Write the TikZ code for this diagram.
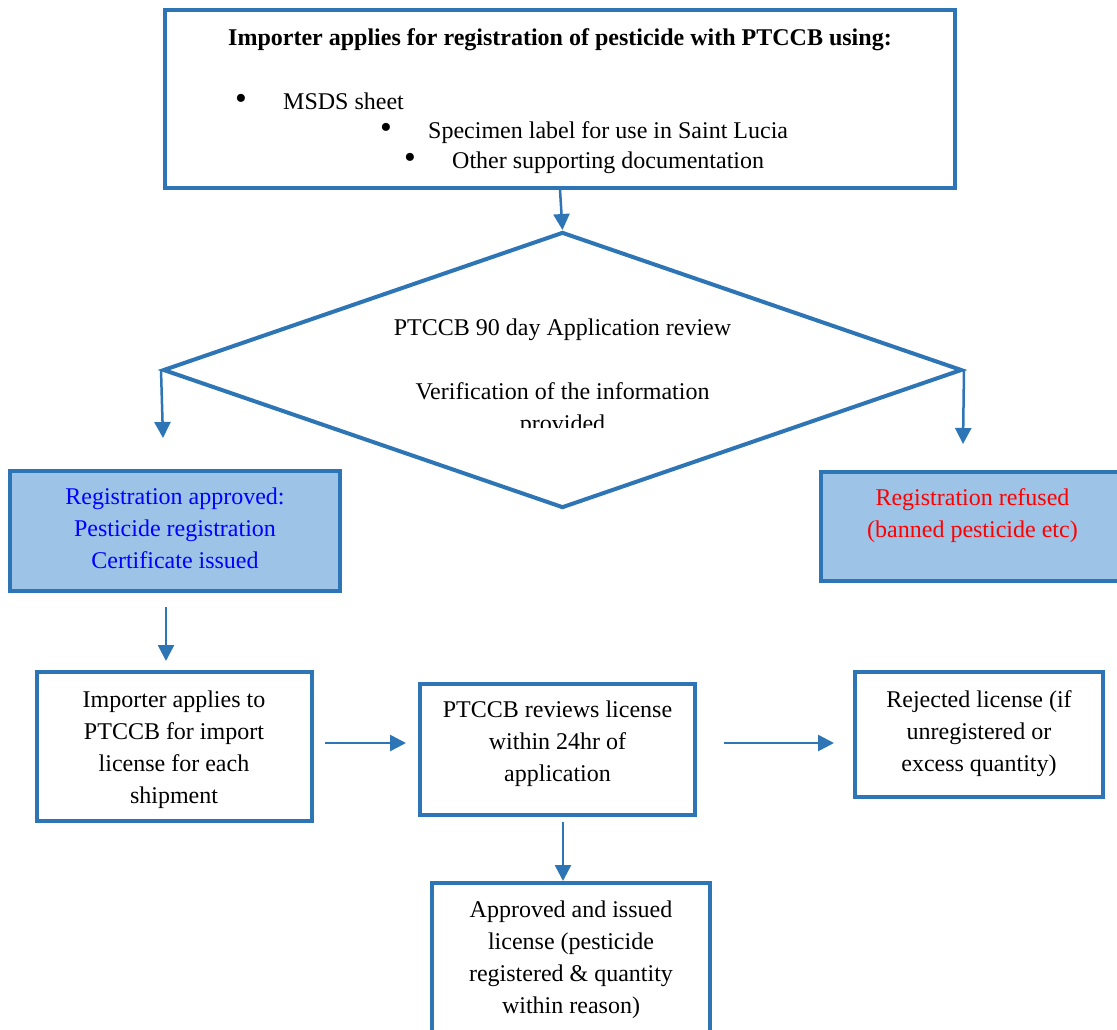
\documentclass[tikz,border=0pt]{standalone}
\usepackage{fontspec}
\setmainfont{Liberation Serif}
\usetikzlibrary{shapes.geometric,arrows.meta}
\definecolor{bordblue}{RGB}{46,117,182}
\definecolor{lightblue}{RGB}{157,195,230}
\definecolor{txtblue}{RGB}{0,0,255}
\definecolor{txtred}{RGB}{255,0,0}
\begin{document}
\begin{tikzpicture}[x=1pt,y=-1pt,
  box/.style={draw=bordblue,line width=3.5pt,rectangle,inner sep=0pt},
  filledbox/.style={box,fill=lightblue},
  txt/.style={font=\fontsize{24}{32}\selectfont,align=center,inner sep=0pt},
  line/.style={font=\fontsize{24}{32}\selectfont,inner sep=0pt},
  arr/.style={draw=bordblue,line width=2.5pt,-{Triangle[length=16pt,width=16pt]}}]
\useasboundingbox (0,0) rectangle (1117,1029);
\clip (0,0) rectangle (1117,1029);
\fill[white] (0,0) rectangle (1117,1029);

% top box
\node[box,minimum width=790pt,minimum height=178pt] (b1) at (560,99) {};
\node[line,anchor=base,font=\fontsize{24}{32}\selectfont\bfseries] (b1t) at (560,45)
  {Importer applies for registration of pesticide with PTCCB using:};
\node[line,anchor=base west] (bul1) at (235,109) {\makebox[48pt][l]{\scalebox{1.4}{•}}MSDS sheet};
\node[line,anchor=base west] (bul2) at (380,138) {\makebox[48pt][l]{\scalebox{1.4}{•}}Specimen label for use in Saint Lucia};
\node[line,anchor=base west] (bul3) at (404,168) {\makebox[48pt][l]{\scalebox{1.4}{•}}Other supporting documentation};

% diamond
\node[diamond,draw=bordblue,line width=4pt,inner sep=0pt,aspect=2.9,
      minimum width=799pt,minimum height=276pt] (dia) at (562.5,370) {};
\node[line,anchor=base] (dt1) at (562.5,335) {PTCCB 90 day Application review};
\node[line,anchor=base] (dt2) at (562.5,399) {Verification of the information};
\begin{scope}
  \clip (300,300) rectangle (830,427);
  \node[line,anchor=base] (dt3) at (562.5,431) {provided};
\end{scope}

% registration outcome boxes
\node[filledbox,minimum width=330pt,minimum height=120pt] (b2) at (175,531) {};
\node[txt,text=txtblue] (b2t) at (175,530.3)
  {\strut Registration approved:\\\strut Pesticide registration\\\strut Certificate issued};
\node[filledbox,minimum width=309pt,minimum height=109pt] (b2r) at (975.5,526.5) {};
\node[txt,text=txtred] (b2rt) at (972.5,514.6)
  {\strut Registration refused\\\strut (banned pesticide etc)};

% license boxes
\node[box,minimum width=275pt,minimum height=149pt] (b3) at (174.5,746.5) {};
\node[txt] (b3t) at (174,748.6)
  {\strut Importer applies to\\\strut PTCCB for import\\\strut license for each\\\strut shipment};
\node[box,minimum width=275pt,minimum height=131pt] (b4) at (557.5,749.5) {};
\node[txt] (b4t) at (557.5,742.6)
  {\strut PTCCB reviews license\\\strut within 24hr of\\\strut application};
\node[box,minimum width=248pt,minimum height=125pt] (b5) at (979,734.5) {};
\node[txt] (b5t) at (979,732.6)
  {\strut Rejected license (if\\\strut unregistered or\\\strut excess quantity)};
\node[box,minimum width=278pt,minimum height=162pt] (b6) at (571,964) {};
\node[txt] (b6t) at (571,959.4)
  {\strut Approved and issued\\\strut license (pesticide\\\strut registered \& quantity\\\strut within reason)};

% free connector ends
\coordinate (c2) at (163,438);
\coordinate (c3) at (963,444);
\coordinate (c4s) at (166,607);
\coordinate (c4e) at (166,661);
\coordinate (c5s) at (325,743);
\coordinate (c5e) at (406,743);
\coordinate (c6s) at (724,743);
\coordinate (c6e) at (834,743);
\coordinate (c7s) at (563,822);
\coordinate (c7e) at (563,881);

% connectors
\draw[arr] (b1.south) -- (dia.north);
\draw[arr] (dia.west) -- (c2);
\draw[arr] (dia.east) -- (c3);
\draw[arr] (c4s) -- (c4e);
\draw[arr] (c5s) -- (c5e);
\draw[arr] (c6s) -- (c6e);
\draw[arr] (c7s) -- (c7e);
\end{tikzpicture}
\end{document}
